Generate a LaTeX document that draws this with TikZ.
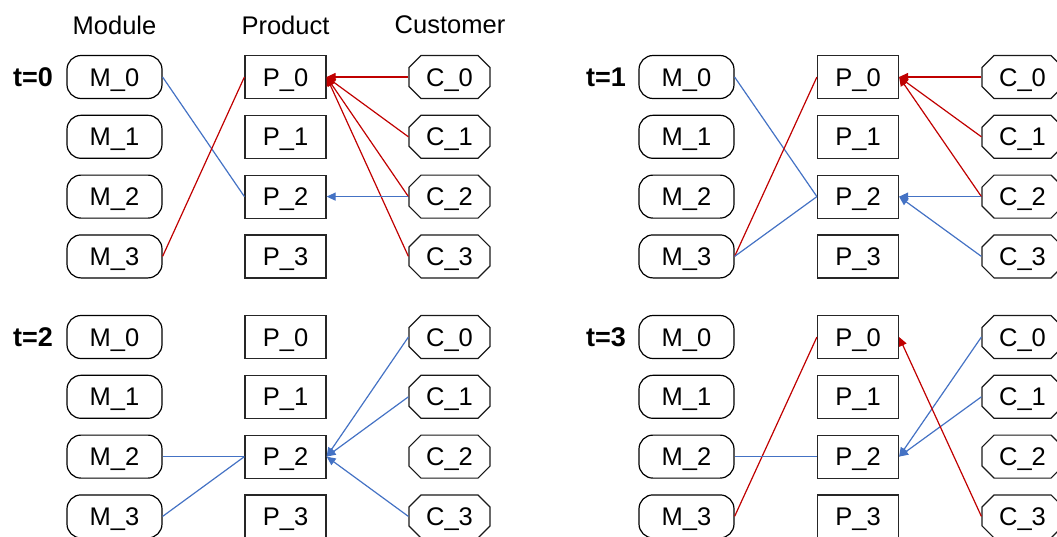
\documentclass[tikz,border=0pt]{standalone}
\usepackage{fontspec}
\setmainfont{Liberation Sans}
\usetikzlibrary{shapes.misc,arrows.meta}
\definecolor{cred}{HTML}{C00000}
\definecolor{cblue}{HTML}{4472C4}
\begin{document}
\begin{tikzpicture}[x=1pt,y=-1pt,
  txt/.style={font=\fontsize{25.5}{30}\selectfont, text height=18.3pt, text depth=0pt},
  mnode/.style={txt,draw=black,line width=1.2pt,rounded corners=14pt,minimum width=95pt,minimum height=43pt,inner sep=0pt},
  pnode/.style={txt,draw=black!85,line width=1.2pt,minimum width=81pt,minimum height=43pt,inner sep=0pt},
  cnode/.style={txt,chamfered rectangle,chamfered rectangle xsep=6pt,chamfered rectangle ysep=6pt,draw=black!90,line width=1.2pt,minimum width=81pt,minimum height=43pt,inner sep=0pt},
  head/.style={font=\fontsize{25.5}{30}\selectfont},
  tlabel/.style={font=\fontsize{27}{30}\selectfont\bfseries},
  link/.style={line width=1.2pt},
  arr/.style={link,-{Triangle[length=9pt,width=8pt]}},
]
\clip (0,0) rectangle (1057,536);
\useasboundingbox (0,0) rectangle (1057,536);

\node[head] (hM) at (114.5,25) {Module};
\node[head] (hP) at (285.5,25) {Product};
\node[head] (hC) at (450,25) {Customer};

\node[tlabel] (t0) at (33,77) {t=0};
\node[tlabel] (t1) at (606,77) {t=1};
\node[tlabel] (t2) at (33,337) {t=2};
\node[tlabel] (t3) at (606,337) {t=3};

\foreach \p/\xm/\xp/\xc/\y in {a/114.5/285.5/449.5/77, b/686.5/858/1022.5/77, c/114.5/285.5/449.5/337, d/686.5/858/1022.5/337}{
  \foreach \i in {0,...,3}{
    \node[mnode] (\p M\i) at (\xm,\y+59.8*\i) {M\_\i};
    \node[pnode] (\p P\i) at (\xp,\y+59.8*\i) {P\_\i};
    \node[cnode] (\p C\i) at (\xc,\y+59.8*\i) {C\_\i};
  }
}

% t=0
\draw[link,cblue] (aM0.east) -- (aP2.west);
\draw[link,cred] (aM3.east) -- (aP0.west);
\foreach \i in {0,...,3}{\draw[arr,cred] (aC\i.west) -- (aP0.east);}
\draw[arr,cblue] (aC2.west) -- (aP2.east);

% t=1
\draw[link,cblue] (bM0.east) -- (bP2.west);
\draw[link,cred] (bM3.east) -- (bP0.west);
\draw[link,cblue] (bM3.east) -- (bP2.west);
\foreach \i in {0,1,2}{\draw[arr,cred] (bC\i.west) -- (bP0.east);}
\draw[arr,cblue] (bC2.west) -- (bP2.east);
\draw[arr,cblue] (bC3.west) -- (bP2.east);

% t=2
\draw[link,cblue] (cM2.east) -- (cP2.west);
\draw[link,cblue] (cM3.east) -- (cP2.west);
\foreach \i in {0,1,3}{\draw[arr,cblue] (cC\i.west) -- (cP2.east);}

% t=3
\draw[link,cred] (dM3.east) -- (dP0.west);
\draw[link,cblue] (dM2.east) -- (dP2.west);
\draw[arr,cblue] (dC0.west) -- (dP2.east);
\draw[arr,cblue] (dC1.west) -- (dP2.east);
\draw[arr,cred] (dC3.west) -- (dP0.east);
\end{tikzpicture}
\end{document}
